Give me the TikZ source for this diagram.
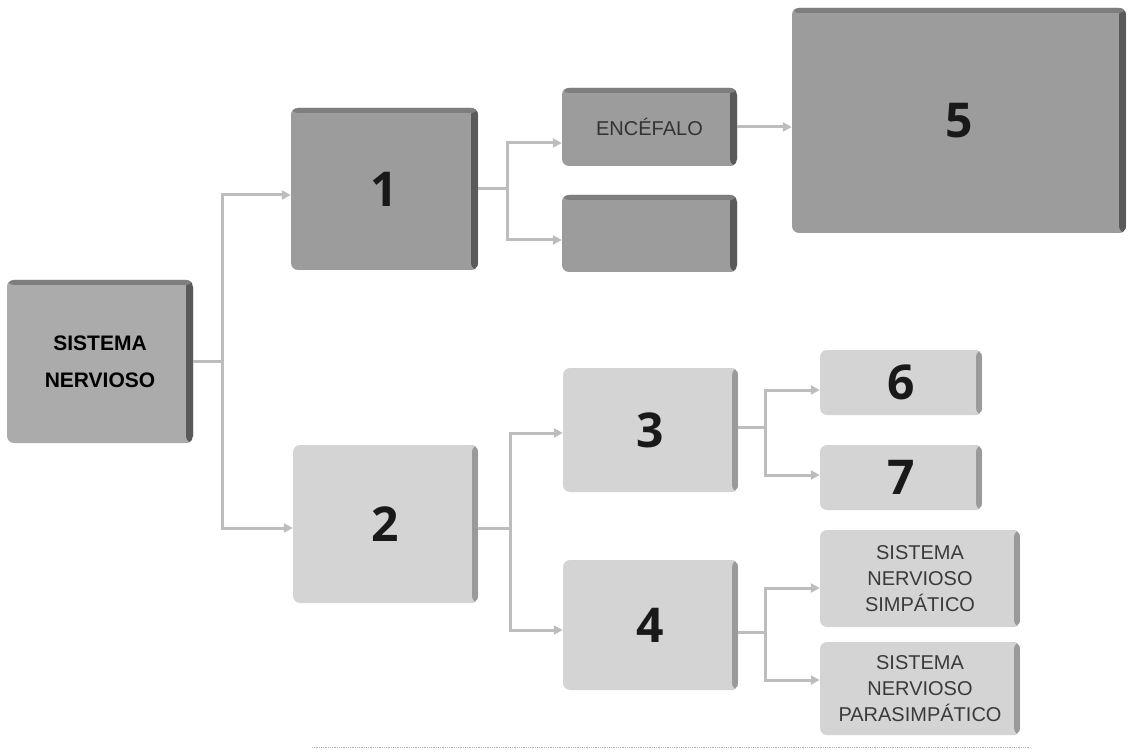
\documentclass[tikz,border=0pt]{standalone}
\usepackage{fontspec}
\setmainfont{Liberation Sans}
\newfontfamily\digitfont{Open Sans}
\usetikzlibrary{arrows.meta,calc}
\definecolor{dkfill}{HTML}{9C9C9C}
\definecolor{snfill}{HTML}{ABABAB}
\definecolor{dkedge}{HTML}{5A5A5A}
\definecolor{dktop}{HTML}{7E7E7E}
\definecolor{ltfill}{HTML}{D4D4D4}
\definecolor{ltedge}{HTML}{9A9A9A}
\definecolor{conncol}{HTML}{BDBDBD}
\definecolor{ltext}{HTML}{3A3A3A}
\begin{document}
\begin{tikzpicture}[x=1pt,y=-1pt,
  box/.style={rectangle, rounded corners=7pt, inner sep=0pt, align=center},
  darkbox/.style={box, fill=dkfill,
    path picture={\fill[dkedge] ([xshift=-7pt]path picture bounding box.north east) rectangle (path picture bounding box.south east);
                  \fill[dktop] (path picture bounding box.north west) rectangle ([yshift=-5pt]path picture bounding box.north east);}},
  lightbox/.style={box, fill=ltfill, text=ltext,
    path picture={\fill[ltedge] ([xshift=-6pt]path picture bounding box.north east) rectangle (path picture bounding box.south east);}},
  digit/.style={font=\digitfont\bfseries\fontsize{48}{48}\selectfont, text=black!90},
  small/.style={font=\fontsize{20}{26}\selectfont},
  conn/.style={draw=conncol, line width=3pt},
  arr/.style={conn, -{Triangle[length=9pt,width=9pt]}}
]
\useasboundingbox (0,0) rectangle (1128,754);

% nodes
\node[darkbox, fill=snfill, minimum width=186pt, minimum height=163pt,
      font=\bfseries\fontsize{21}{37}\selectfont] (sn) at (100,361.5) {SISTEMA\\NERVIOSO};
\node[darkbox, digit, minimum width=187pt, minimum height=162pt] (b1) at (384.5,189) {1};
\node[darkbox, minimum width=175pt, minimum height=78pt, font=\fontsize{20}{24}\selectfont, text=black!80] (enc) at (649.5,127) {ENCÉFALO};
\node[darkbox, minimum width=175pt, minimum height=77pt] (emp) at (649.5,233.5) {};
\node[darkbox, digit, minimum width=334pt, minimum height=225pt] (b5) at (959,120.5) {5};

\node[lightbox, digit, minimum width=185pt, minimum height=158pt] (b2) at (385.5,524) {2};
\node[lightbox, digit, minimum width=175pt, minimum height=124pt] (b3) at (650.5,430) {3};
\node[lightbox, digit, minimum width=175pt, minimum height=130pt] (b4) at (650.5,625) {4};
\node[lightbox, digit, minimum width=162pt, minimum height=65pt] (b6) at (901,382.5) {6};
\node[lightbox, digit, minimum width=162pt, minimum height=65pt] (b7) at (901,477.5) {7};
\node[lightbox, small, minimum width=200pt, minimum height=97pt] (sym) at (920,578.5) {SISTEMA\\NERVIOSO\\SIMPÁTICO};
\node[lightbox, small, minimum width=200pt, minimum height=93pt] (para) at (920,688.5) {SISTEMA\\NERVIOSO\\PARASIMPÁTICO};

% junctions
\coordinate (j0) at (222,361.5);
\coordinate (j1) at (507,189);
\coordinate (j2) at (510,528);
\coordinate (j3) at (765,427);
\coordinate (j4) at (765,632);

% connectors
\draw[conn] (sn.east) -- (j0);
\draw[arr] (j0) |- ([yshift=-6pt]b1.west);
\draw[arr] (j0) |- ([yshift=-4pt]b2.west);

\draw[conn] (b1.east) -- (j1);
\draw[arr] (j1) |- ([yshift=-16pt]enc.west);
\draw[arr] (j1) |- ([yshift=-6.5pt]emp.west);
\draw[arr] (enc.east) -- (enc.east -| b5.west);

\draw[conn] ([yshift=-4pt]b2.east) -- (j2);
\draw[arr] (j2) |- ([yshift=-3pt]b3.west);
\draw[arr] (j2) |- ([yshift=-5pt]b4.west);

\draw[conn] ([yshift=3pt]b3.east) -- (j3);
\draw[arr] (j3) |- ([yshift=-7.5pt]b6.west);
\draw[arr] (j3) |- ([yshift=2.5pt]b7.west);

\draw[conn] ([yshift=-7pt]b4.east) -- (j4);
\draw[arr] (j4) |- ([yshift=-9.5pt]sym.west);
\draw[arr] (j4) |- ([yshift=8.5pt]para.west);

% bottom dotted rule
\coordinate (r0) at (312,747);
\coordinate (r1) at (1030,747);
\draw[gray!60, densely dotted, line width=0.8pt] (r0) -- (r1);
\end{tikzpicture}
\end{document}
